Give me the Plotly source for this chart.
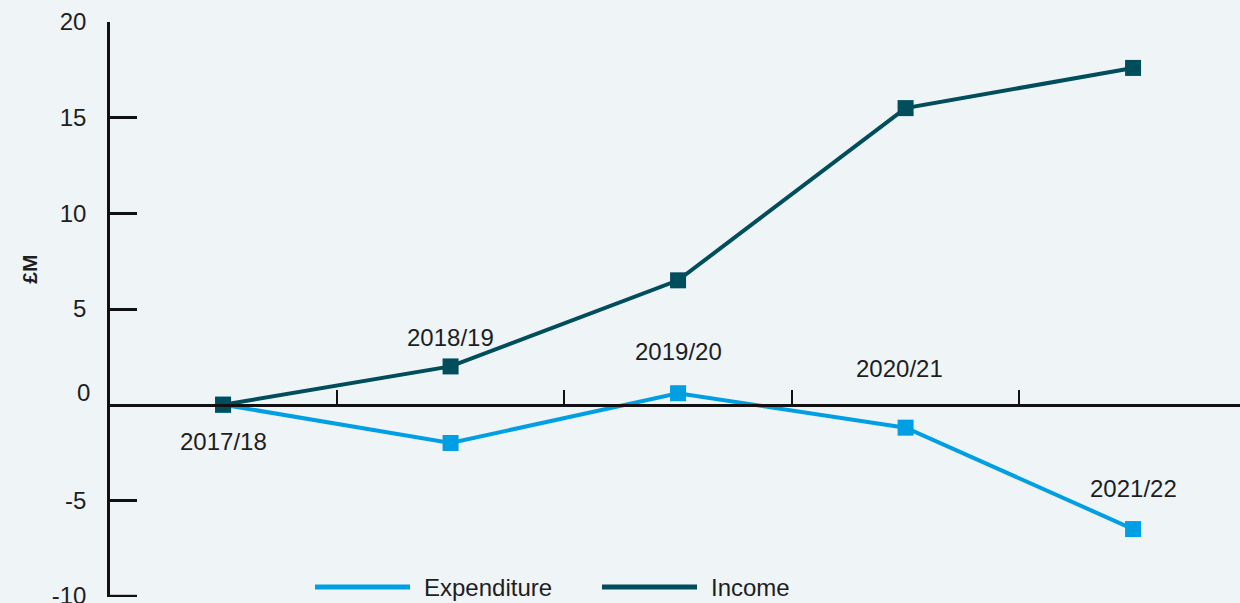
import plotly.graph_objects as go

years = ["2017/18", "2018/19", "2019/20", "2020/21", "2021/22"]
expenditure = [0.0, -2.0, 0.6, -1.2, -6.5]
income = [0.0, 2.0, 6.5, 15.5, 17.6]
y_ticks = [-10, -5, 0, 5, 10, 15, 20]

EXP_C = "#009fe3"
INC_C = "#004d5c"
BG = "#eff4f7"
TXT = "#1e1e1e"
FONT = "Liberation Sans, Arial, sans-serif"
FS = 24

x = list(range(len(years)))
ymin, ymax = -10.05, 20

fig = go.Figure()
fig.add_trace(go.Scatter(x=x, y=expenditure, mode="lines+markers", name="Expenditure",
                         line=dict(color=EXP_C, width=4),
                         marker=dict(symbol="square", size=16, color=EXP_C),
                         showlegend=False, cliponaxis=False))
fig.add_trace(go.Scatter(x=x, y=income, mode="lines+markers", name="Income",
                         line=dict(color=INC_C, width=4),
                         marker=dict(symbol="square", size=16, color=INC_C),
                         showlegend=False, cliponaxis=False))

# category labels placed near the points (anchor series, pixel shift)
label_anchor = [income[0], income[1], expenditure[2], expenditure[3], expenditure[4]]
label_shift = [-37, 29, 42, 59, 41]
label_xshift = [0, 0, 0, -6, 0]
for i, yr in enumerate(years):
    fig.add_annotation(x=i, y=label_anchor[i], text=yr, showarrow=False,
                       yshift=label_shift[i], xshift=label_xshift[i],
                       font=dict(family=FONT, size=FS, color=TXT))

# zero label (shifted up, as in reference)
fig.add_annotation(xref="paper", x=0, xanchor="right", xshift=-18, y=0, yshift=12,
                   text="0", showarrow=False, font=dict(family=FONT, size=FS, color=TXT))

# bottom tick mark at the lowest y tick (plotly drops it at the axis end)
fig.add_shape(type="line", xref="paper", x0=0, x1=27 / 1130, yref="y",
              y0=y_ticks[0], y1=y_ticks[0], line=dict(color="#111", width=2.5))

# y axis title
fig.add_annotation(xref="paper", x=0, xshift=-94, yref="paper", y=0.57, text="<b>£M</b>",
                   textangle=-90, showarrow=False, font=dict(family=FONT, size=21, color=TXT))

# manual legend
legend_items = [("Expenditure", EXP_C, 315), ("Income", INC_C, 602)]
W = 1130
for name, col, px in legend_items:
    x0 = (px - 110) / W
    x1 = (px + 95 - 110) / W
    yl = (597 - 587) / 575
    fig.add_shape(type="line", xref="paper", yref="paper", x0=x0, x1=x1, y0=yl, y1=yl,
                  line=dict(color=col, width=5))
    fig.add_annotation(xref="paper", yref="paper", x=(px + 107 - 110) / W, y=yl,
                       xanchor="left", yanchor="middle", text=name, showarrow=False,
                       font=dict(family=FONT, size=FS, color=TXT))

fig.update_layout(
    width=1240, height=603,
    margin=dict(l=110, r=0, t=22, b=6, autoexpand=False),
    paper_bgcolor=BG, plot_bgcolor=BG,
    font=dict(family=FONT, size=FS, color=TXT),
    xaxis=dict(range=[-0.497, 4.47], tickvals=[0.5, 1.5, 2.5, 3.5], ticktext=["", "", "", ""],
               ticks="inside", ticklen=14, tickwidth=2, tickcolor="#111",
               showline=True, linecolor="#111", linewidth=2.5,
               anchor="free", position=(0 - ymin) / (ymax - ymin),
               showgrid=False, zeroline=False, fixedrange=True, automargin=False),
    yaxis=dict(range=[ymin, ymax], tickvals=[v for v in y_ticks if v != 0],
               ticktext=[str(v) for v in y_ticks if v != 0],
               ticks="inside", ticklen=27, tickwidth=2.5, tickcolor="#111",
               showline=True, linecolor="#111", linewidth=2.5,
               ticklabelstandoff=16, ticklabeloverflow="allow",
               showgrid=False, zeroline=False, fixedrange=True, automargin=False,
               tickfont=dict(family=FONT, size=FS, color=TXT)),
)

fig.write_html("out.html")
